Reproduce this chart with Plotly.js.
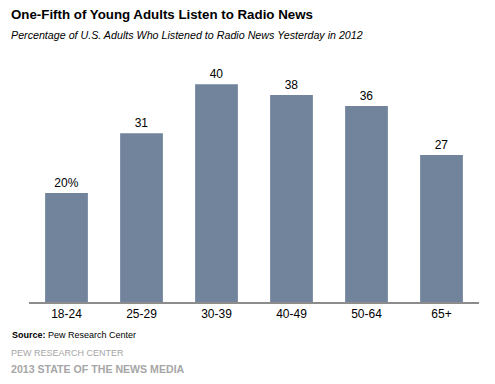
<!DOCTYPE html>
<html><head><meta charset="utf-8">
<script src="https://cdn.plot.ly/plotly-3.0.1.min.js"></script>
<style>html,body{margin:0;padding:0;background:#fff}</style>
</head><body>
<div id="chart" style="width:495px;height:384px"></div>
<script>
const categories = ["18-24","25-29","30-39","40-49","50-64","65+"];
const values = [20,31,40,38,36,27];
const labels = ["20%","31","40","38","36","27"];

const W = 495, H = 384;
const mL = 29, mR = 16, mT = 57, mB = 82;
function ax(x){ return (x - mL) / (W - mL - mR); }
function ay(y){ return (H - mB - y) / (H - mT - mB); }

const trace = {
  type: 'bar', x: categories, y: values, text: labels,
  textposition: 'outside', cliponaxis: false,
  textfont: {family: 'Liberation Sans, Arial, sans-serif', size: 12, color: '#000'},
  marker: {color: '#72849b'}, hoverinfo: 'none'
};
const font = 'Liberation Sans, Arial, sans-serif';
const layout = {
  width: W, height: H,
  margin: {l: mL, r: mR, t: mT, b: mB, pad: 0},
  paper_bgcolor: '#fff', plot_bgcolor: '#fff',
  showlegend: false, bargap: 0.43,
  font: {family: font, size: 12, color: '#000'},
  xaxis: {showline: true, linecolor: '#8c8c8c', linewidth: 1.5, ticks: '', showgrid: false,
          tickfont: {family: font, size: 12, color: '#000'}, fixedrange: true},
  yaxis: {range: [0, 45], visible: false, showgrid: false, zeroline: false, fixedrange: true},
  annotations: [
    {text: '<b>One-Fifth of Young Adults Listen to Radio News</b>', xref: 'paper', yref: 'paper',
     x: ax(9), y: ay(15), xanchor: 'left', yanchor: 'middle', showarrow: false,
     font: {family: font, size: 13.3, color: '#000'}},
    {text: '<i>Percentage of U.S. Adults Who Listened to Radio News Yesterday in 2012</i>', xref: 'paper', yref: 'paper',
     x: ax(9), y: ay(35), xanchor: 'left', yanchor: 'middle', showarrow: false,
     font: {family: font, size: 10.7, color: '#000'}},
    {text: '<b>Source:</b> Pew Research Center', xref: 'paper', yref: 'paper',
     x: ax(10), y: ay(335), xanchor: 'left', yanchor: 'middle', showarrow: false,
     font: {family: font, size: 9, color: '#000'}},
    {text: 'PEW RESEARCH CENTER', xref: 'paper', yref: 'paper',
     x: ax(9), y: ay(353), xanchor: 'left', yanchor: 'middle', showarrow: false,
     font: {family: font, size: 9, color: '#a6a6a6'}},
    {text: '<b>2013 STATE OF THE NEWS MEDIA</b>', xref: 'paper', yref: 'paper',
     x: ax(9), y: ay(369), xanchor: 'left', yanchor: 'middle', showarrow: false,
     font: {family: font, size: 10.6, color: '#a6a6a6'}}
  ]
};
Plotly.newPlot('chart', [trace], layout, {displayModeBar: false, staticPlot: true});
</script>
</body></html>
